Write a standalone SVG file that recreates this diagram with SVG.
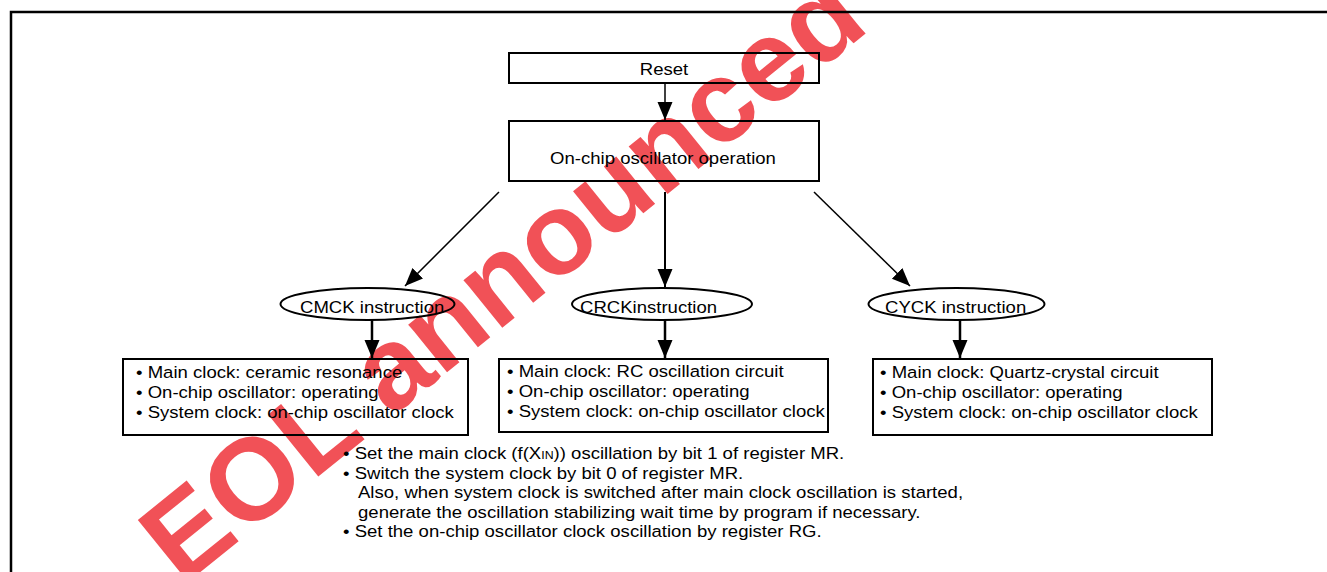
<svg xmlns="http://www.w3.org/2000/svg" width="1327" height="572" viewBox="0 0 1327 572">
<style>
.t{font-family:"Liberation Sans",Arial,sans-serif;font-size:16.5px;fill:#000}
.m{text-anchor:middle}
.box{fill:none;stroke:#000;stroke-width:2}
.ell{fill:none;stroke:#000;stroke-width:2}
.c{stroke:#000;fill:none}
.wm{font-family:"Liberation Sans",Arial,sans-serif;font-size:116px;font-weight:bold;fill:#ef3e45;fill-opacity:0.9}
</style>
<defs>
<marker id="ah" markerUnits="userSpaceOnUse" markerWidth="20" markerHeight="16" refX="18" refY="7.5" orient="auto">
<path d="M0,0 L18,7.5 L0,15 z" fill="#000"/>
</marker>
</defs>
<rect x="0" y="0" width="1327" height="572" fill="#fff"/>
<text class="wm" transform="translate(182,587) rotate(-39)">EOL announced</text>
<path d="M11,572 V12 H1327" fill="none" stroke="#000" stroke-width="2.5"/>
<g id="connectors">
<line class="c" stroke-width="1.5" x1="665" y1="84" x2="665" y2="120" marker-end="url(#ah)"/>
<line class="c" stroke-width="1.5" x1="499" y1="192" x2="405" y2="286" marker-end="url(#ah)"/>
<line class="c" stroke-width="2" x1="665" y1="192" x2="665" y2="287" marker-end="url(#ah)"/>
<line class="c" stroke-width="1.5" x1="814" y1="192" x2="910" y2="286" marker-end="url(#ah)"/>
<line class="c" stroke-width="2.5" x1="372" y1="320" x2="372" y2="358" marker-end="url(#ah)"/>
<line class="c" stroke-width="2.5" x1="665" y1="320" x2="665" y2="358" marker-end="url(#ah)"/>
<line class="c" stroke-width="2.5" x1="960" y1="320" x2="960" y2="358" marker-end="url(#ah)"/>
</g>
<g id="reset">
<rect class="box" x="509" y="53" width="310" height="30"/>
<text class="t m" transform="translate(664,75) scale(1.125,1)">Reset</text>
</g>
<g id="onchip">
<rect class="box" x="509" y="121" width="310" height="60"/>
<text class="t m" transform="translate(663,164) scale(1.125,1)">On-chip oscillator operation</text>
</g>
<g id="cmck">
<ellipse class="ell" cx="367.5" cy="304" rx="87" ry="16"/>
<text class="t" transform="translate(300,313) scale(1.125,1)">CMCK instruction</text>
</g>
<g id="crck">
<ellipse class="ell" cx="662" cy="304" rx="90" ry="16"/>
<text class="t" transform="translate(580,313) scale(1.125,1)">CRCKinstruction</text>
</g>
<g id="cyck">
<ellipse class="ell" cx="956.5" cy="304" rx="88" ry="16"/>
<text class="t" transform="translate(885,313) scale(1.125,1)">CYCK instruction</text>
</g>
<g id="box1">
<rect class="box" x="123" y="359" width="345" height="76"/>
<text class="t" transform="translate(136,378) scale(1.125,1)">• Main clock: ceramic resonance</text>
<text class="t" transform="translate(136,398) scale(1.125,1)">• On-chip oscillator: operating</text>
<text class="t" transform="translate(136,418) scale(1.125,1)">• System clock: on-chip oscillator clock</text>
</g>
<g id="box2">
<rect class="box" x="499" y="359" width="329" height="73"/>
<text class="t" transform="translate(507,377) scale(1.125,1)">• Main clock: RC oscillation circuit</text>
<text class="t" transform="translate(507,397) scale(1.125,1)">• On-chip oscillator: operating</text>
<text class="t" transform="translate(507,417) scale(1.125,1)">• System clock: on-chip oscillator clock</text>
</g>
<g id="box3">
<rect class="box" x="873" y="359" width="339" height="76"/>
<text class="t" transform="translate(880,378) scale(1.125,1)">• Main clock: Quartz-crystal circuit</text>
<text class="t" transform="translate(880,398) scale(1.125,1)">• On-chip oscillator: operating</text>
<text class="t" transform="translate(880,418) scale(1.125,1)">• System clock: on-chip oscillator clock</text>
</g>
<g id="notes">
<text class="t" transform="translate(343,459) scale(1.125,1)">• Set the main clock (f(X<tspan font-size="11">IN</tspan>)) oscillation by bit 1 of register MR.</text>
<text class="t" transform="translate(343,479) scale(1.125,1)">• Switch the system clock by bit 0 of register MR.</text>
<text class="t" transform="translate(358,498) scale(1.125,1)">Also, when system clock is switched after main clock oscillation is started,</text>
<text class="t" transform="translate(358,518) scale(1.125,1)">generate the oscillation stabilizing wait time by program if necessary.</text>
<text class="t" transform="translate(343,537) scale(1.125,1)">• Set the on-chip oscillator clock oscillation by register RG.</text>
</g>
</svg>
